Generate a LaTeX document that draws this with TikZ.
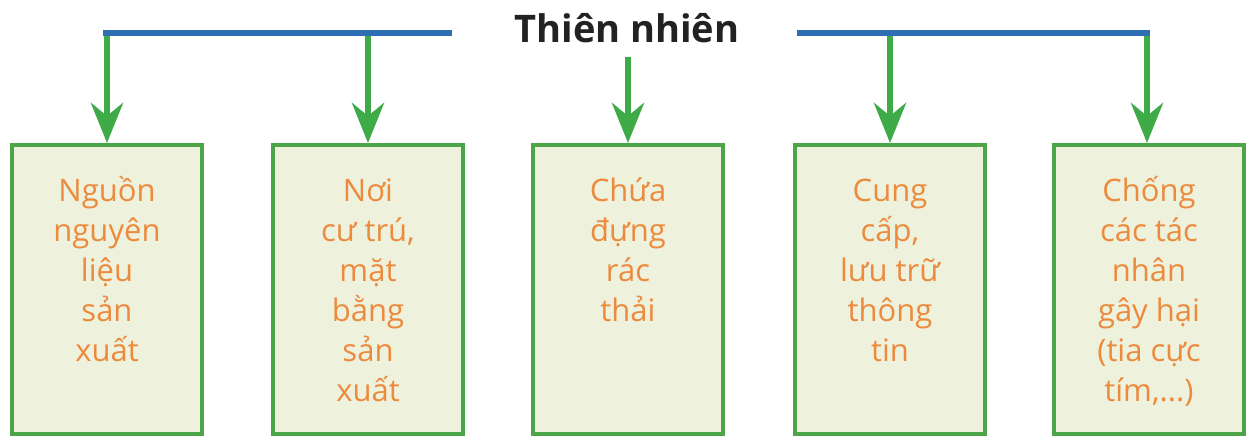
\documentclass[tikz,border=0pt]{standalone}
\usepackage{fontspec}
\setmainfont{Open Sans}
\usetikzlibrary{arrows.meta}
\definecolor{bluebar}{HTML}{2E6FB3}
\definecolor{arrowgreen}{HTML}{3FAA48}
\definecolor{boxgreen}{HTML}{4DA54A}
\definecolor{boxfill}{HTML}{EEF2DD}
\definecolor{txtorange}{HTML}{EC8A3D}
\definecolor{titlegray}{HTML}{222222}
\newcommand{\firststrut}{\rule{0pt}{34pt}}
\tikzset{
  bar/.style={draw=bluebar, line width=6.5pt},
  down/.style={draw=arrowgreen, line width=6.5pt, -{Stealth[length=40pt,width=32pt,inset=13pt]}},
  panel/.style={draw=boxgreen, fill=boxfill, line width=4pt, minimum width=190pt, minimum height=289pt, inner sep=0pt, anchor=north},
  panellabel/.style={text=txtorange, align=center, inner sep=0pt, anchor=north, font=\fontsize{31}{40}\selectfont},
  heading/.style={text=titlegray, inner sep=0pt, anchor=base, font=\fontsize{38}{44}\selectfont\bfseries}
}
\begin{document}
\begin{tikzpicture}[x=1pt,y=-1pt]
\useasboundingbox (0,0) rectangle (1246,436);
% title
\node[heading] (title) at (627,43) {Thiên nhiên};
% boxes
\node[panel] (b1) at (107,143) {};
\node[panel] (b2) at (368,143) {};
\node[panel] (b3) at (628,143) {};
\node[panel] (b4) at (890,143) {};
\node[panel] (b5) at (1149,143) {};
% labels
\node[panellabel] (t1) at (107,167) {\firststrut Nguồn\\nguyên\\liệu\\sản\\xuất};
\node[panellabel] (t2) at (368,167) {\firststrut Nơi\\cư trú,\\mặt\\bằng\\sản\\xuất};
\node[panellabel] (t3) at (628,167) {\firststrut Chứa\\đựng\\rác\\thải};
\node[panellabel] (t4) at (890,167) {\firststrut Cung\\cấp,\\lưu trữ\\thông\\tin};
\node[panellabel] (t5) at (1149,167) {\firststrut Chống\\các tác\\nhân\\gây hại\\(tia cực\\tím,...)};
% blue bars
\coordinate (l1) at (103,33);
\coordinate (l2) at (452,33);
\coordinate (r1) at (797,33);
\coordinate (r2) at (1150,33);
\coordinate (a1) at (107,33);
\coordinate (a2) at (368,33);
\coordinate (a3) at (628,57);
\coordinate (a4) at (890,33);
\coordinate (a5) at (1147,33);
% arrows
\draw[down] (a1) -- (b1.north);
\draw[down] (a2) -- (b2.north);
\draw[down] (a3) -- (b3.north);
\draw[down] (a4) -- (b4.north);
\draw[down] (a5) -- (b5.north -| a5);
\draw[bar] (l1) -- (l2);
\draw[bar] (r1) -- (r2);
\end{tikzpicture}
\end{document}
